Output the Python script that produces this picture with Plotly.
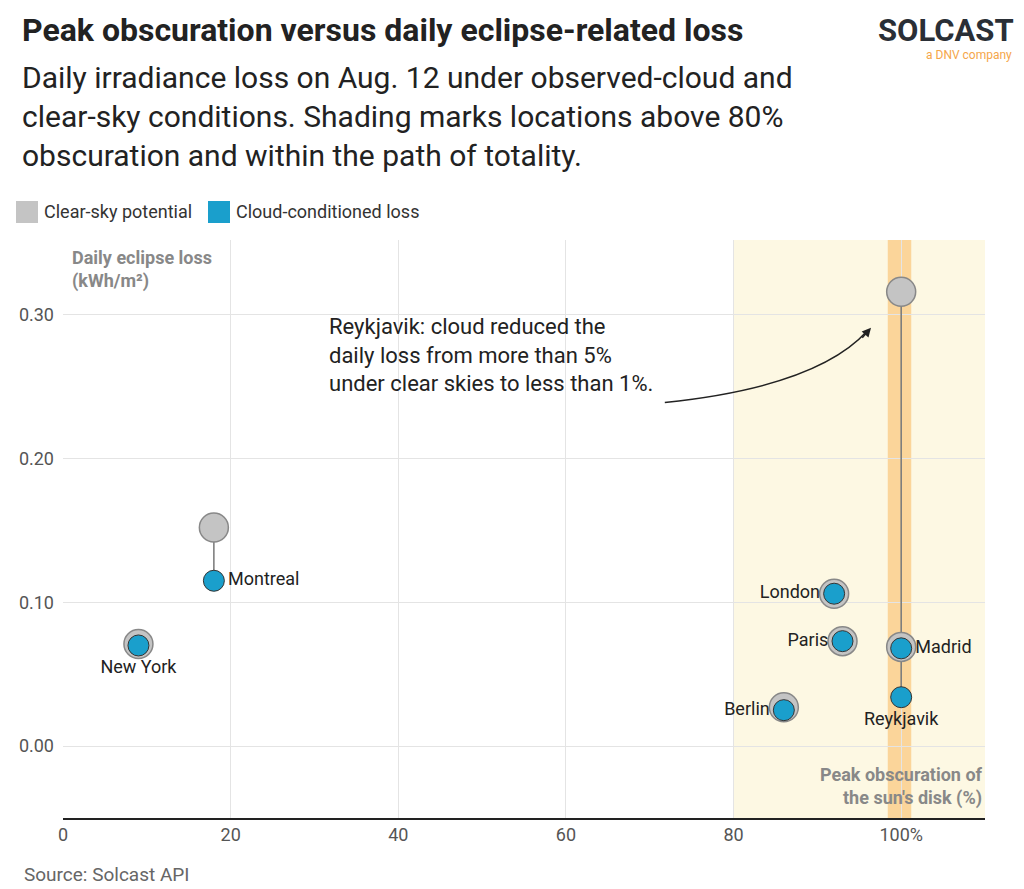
import plotly.graph_objects as go

cities = ["New York", "Montreal", "London", "Paris", "Madrid", "Berlin", "Reykjavik"]
obscuration = [9, 18, 92, 93, 100, 86, 100]
clear_sky = [0.071, 0.152, 0.106, 0.073, 0.069, 0.027, 0.316]
cloud_loss = [0.070, 0.115, 0.106, 0.073, 0.068, 0.025, 0.034]
label_pos = ["bottom center", "middle right", "middle left", "middle left",
             "middle right", "middle left", "bottom center"]
legend_names = ["Clear-sky potential", "Cloud-conditioned loss"]

GRAY = "#c4c4c4"
BLUE = "#1a9fcc"
FONT = "Roboto"

# plot area on screen: top 240, bottom 818, left 63, right 985
def py(p):
    return (818 - p) / 578

def px_(p):
    return (p - 63) / 922

fig = go.Figure()

# connector lines between clear-sky and cloud values
for x, a, b in zip(obscuration, clear_sky, cloud_loss):
    fig.add_trace(go.Scatter(x=[x, x], y=[a, b], mode="lines",
                             line=dict(color="#777", width=1.5),
                             showlegend=False, hoverinfo="skip"))

fig.add_trace(go.Scatter(x=obscuration, y=clear_sky, mode="markers",
                         name=legend_names[0], showlegend=False,
                         marker=dict(size=29, color=GRAY, line=dict(color="#888", width=1.5))))
fig.add_trace(go.Scatter(x=obscuration, y=cloud_loss, mode="markers+text",
                         name=legend_names[1], text=cities, textposition=label_pos,
                         showlegend=False,
                         textfont=dict(size=18, color="#222", family=FONT),
                         marker=dict(size=21, color=BLUE, line=dict(color="#333", width=1))))

# hand-made legend (a plotly legend outside the plot pushes the margins)
for name, col, x0 in zip(legend_names, [GRAY, BLUE], [16, 208]):
    fig.add_shape(type="rect", xref="paper", yref="paper",
                  x0=px_(x0), x1=px_(x0 + 22), y0=py(223), y1=py(201),
                  fillcolor=col, line_width=0)
    fig.add_annotation(x=px_(x0 + 26), y=py(212), xref="paper", yref="paper",
                       xanchor="left", yanchor="middle", showarrow=False, text=name,
                       font=dict(size=18, color="#333", family=FONT))

fig.add_vrect(x0=80, x1=110, fillcolor="#fdf6dc", opacity=0.8, line_width=0, layer="below")
fig.add_vrect(x0=98.4, x1=101.2, fillcolor="#fbd59a", opacity=1, line_width=0, layer="below")

# curved arrow
fig.add_shape(type="path", path="M 71.8,0.239 Q 90,0.25 96.0,0.289",
              line=dict(color="#222", width=1.5))
fig.add_annotation(x=96.4, y=0.291, ax=95.2, ay=0.283, xref="x", yref="y",
                   axref="x", ayref="y", text="", showarrow=True,
                   arrowhead=2, arrowsize=1.2, arrowwidth=1.5, arrowcolor="#222")
fig.add_annotation(x=31.5, y=0.302, xref="x", yref="y", xanchor="left", yanchor="top",
                   align="left", showarrow=False,
                   text="Reykjavik: cloud reduced the<br>daily loss from more than 5%<br>under clear skies to less than 1%.",
                   font=dict(size=22, color="#222", family=FONT))

fig.add_annotation(x=px_(70), y=py(245), xref="paper", yref="paper", xanchor="left", yanchor="top",
                   align="left", showarrow=False,
                   text="<b>Daily eclipse loss<br>(kWh/m²)</b>",
                   font=dict(size=18, color="#888", family=FONT))
fig.add_annotation(x=110, y=-0.011, xref="x", yref="y", xanchor="right", yanchor="top",
                   align="right", showarrow=False,
                   text="<b>Peak obscuration of<br>the sun's disk (%)</b>",
                   font=dict(size=18, color="#888", family=FONT))

fig.add_annotation(x=px_(20), y=py(9), xref="paper", yref="paper", xanchor="left", yanchor="top",
                   showarrow=False, align="left",
                   text="<b>Peak obscuration versus daily eclipse-related loss</b>",
                   font=dict(size=32, color="#222", family=FONT))
fig.add_annotation(x=px_(20), y=py(58), xref="paper", yref="paper", xanchor="left", yanchor="top",
                   showarrow=False, align="left",
                   text="Daily irradiance loss on Aug. 12 under observed-cloud and<br>clear-sky conditions. Shading marks locations above 80%<br>obscuration and within the path of totality.",
                   font=dict(size=30, color="#222", family=FONT))
fig.add_annotation(x=px_(22), y=py(888), xref="paper", yref="paper", xanchor="left", yanchor="bottom",
                   showarrow=False,
                   text="Source: Solcast API", font=dict(size=19, color="#666", family=FONT))
fig.add_annotation(x=px_(1016), y=py(10), xref="paper", yref="paper", xanchor="right", yanchor="top",
                   showarrow=False, text="<b>SOLCAST</b>",
                   font=dict(size=31, color="#2a2f36", family=FONT))
fig.add_annotation(x=px_(1014), y=py(46), xref="paper", yref="paper", xanchor="right", yanchor="top",
                   showarrow=False, text="a DNV company",
                   font=dict(size=12, color="#f5a64a", family=FONT))

fig.update_layout(
    width=1008, height=881,
    margin=dict(l=55, r=31, t=232, b=71),
    paper_bgcolor="white", plot_bgcolor="white",
    font=dict(family=FONT, color="#444"),
    showlegend=False,
    xaxis=dict(range=[0, 110], tickvals=[0, 20, 40, 60, 80, 100],
               ticktext=["0", "20", "40", "60", "80", "100%"],
               showgrid=True, gridcolor="#e4e4e4", zeroline=False,
               showline=True, linecolor="#222", linewidth=1.5,
               tickfont=dict(size=18, color="#555"), automargin=False),
    yaxis=dict(range=[-0.05, 0.352], tickvals=[0, 0.1, 0.2, 0.3],
               ticktext=["0.00", "0.10", "0.20", "0.30"],
               showgrid=True, gridcolor="#e4e4e4", zeroline=False,
               tickfont=dict(size=18, color="#555"), ticklabelstandoff=8, automargin=False),
)

fig.write_html("out.html")
